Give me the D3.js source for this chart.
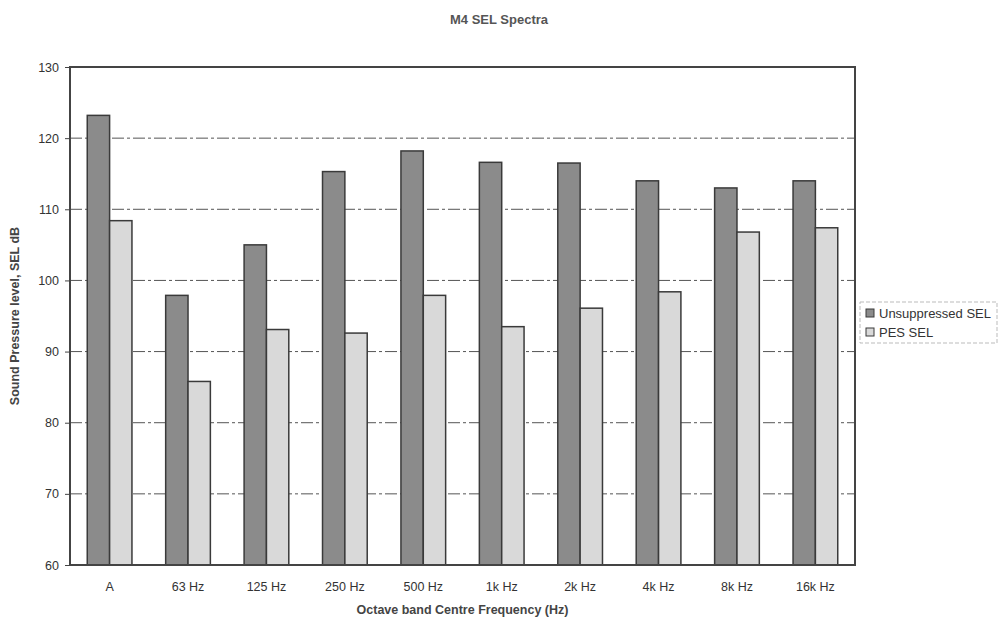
<!DOCTYPE html>
<html><head><meta charset="utf-8">
<script src="https://cdn.jsdelivr.net/npm/d3@7/dist/d3.min.js"></script>
<style>body{margin:0;background:#fff;} svg{display:block;font-family:Arial,"Liberation Sans",sans-serif;}</style>
</head><body><svg id="c" width="999" height="625"></svg>
<script>
const categories = ["A","63 Hz","125 Hz","250 Hz","500 Hz","1k Hz","2k Hz","4k Hz","8k Hz","16k Hz"];
const seriesNames = ["Unsuppressed SEL","PES SEL"];
const unsuppressed = [123.2, 97.9, 105.0, 115.3, 118.2, 116.6, 116.5, 114.0, 113.0, 114.0];
const pes = [108.4, 85.8, 93.1, 92.6, 97.9, 93.5, 96.1, 98.4, 106.8, 107.4];
const yTicks = [60,70,80,90,100,110,120,130];
const colors = ["#8b8b8b","#d9d9d9"];

const svg = d3.select("#c");
const m = {left:70, right:144, top:67, bottom:60};
const W = 999 - m.left - m.right, H = 625 - m.top - m.bottom;
const g = svg.append("g").attr("transform",`translate(${m.left},${m.top})`);

const x0 = d3.scaleBand().domain(categories).range([0,W]).paddingInner(0.43).paddingOuter(0.22);
const x1 = d3.scaleBand().domain(seriesNames).range([0,x0.bandwidth()]).padding(0);
const y = d3.scaleLinear().domain([60,130]).range([H,0]);

// gridlines
g.append("g").selectAll("line").data(yTicks.filter(t=>t>60&&t<130)).join("line")
  .attr("x1",0).attr("x2",W).attr("y1",d=>y(d)).attr("y2",d=>y(d))
  .attr("stroke","#555").attr("stroke-width",1).attr("stroke-dasharray","12,3,3,3");

// bars
const data = categories.map((c,i)=>({c, vals:[unsuppressed[i], pes[i]]}));
const grp = g.append("g").selectAll("g").data(data).join("g")
  .attr("transform",d=>`translate(${x0(d.c)},0)`);
grp.selectAll("rect").data(d=>d.vals.map((v,j)=>({v,s:seriesNames[j],j}))).join("rect")
  .attr("x",d=>x1(d.s)).attr("width",x1.bandwidth())
  .attr("y",d=>y(d.v)).attr("height",d=>H-y(d.v))
  .attr("fill",d=>colors[d.j]).attr("stroke","#3a3a3a").attr("stroke-width",1.5);

// frame
g.append("rect").attr("x",0).attr("y",0).attr("width",W).attr("height",H)
  .attr("fill","none").attr("stroke","#444").attr("stroke-width",2);

// y axis
const ya = g.append("g").call(d3.axisLeft(y).tickValues(yTicks).tickSize(5).tickPadding(6));
ya.select(".domain").remove();
ya.selectAll("line").attr("stroke","#444");
ya.selectAll("text").attr("font-size",12.5).attr("fill","#333").attr("font-family","Arial, 'Liberation Sans', sans-serif");

// x axis
const xa = g.append("g").attr("transform",`translate(0,${H})`).call(d3.axisBottom(x0).tickSize(0).tickPadding(17));
xa.select(".domain").remove();
xa.selectAll("text").attr("font-size",12.5).attr("fill","#333").attr("font-family","Arial, 'Liberation Sans', sans-serif");

// titles
svg.append("text").attr("x",499).attr("y",24).attr("text-anchor","middle")
  .attr("font-size",13).attr("font-weight","bold").attr("fill","#555").text("M4 SEL Spectra");
svg.append("text").attr("x",m.left+W/2).attr("y",614).attr("text-anchor","middle")
  .attr("font-size",12.5).attr("font-weight","bold").attr("fill","#444").text("Octave band Centre Frequency (Hz)");
svg.append("text").attr("transform",`translate(19,${m.top+H/2}) rotate(-90)`).attr("text-anchor","middle")
  .attr("font-size",12.5).attr("font-weight","bold").attr("fill","#444").text("Sound Pressure level, SEL dB");

// legend
const lg = svg.append("g").attr("transform","translate(860,302)");
lg.append("rect").attr("width",137).attr("height",41).attr("fill","#fff")
  .attr("stroke","#bbb").attr("stroke-width",1).attr("stroke-dasharray","4,2");
seriesNames.forEach((s,i)=>{
  const r = lg.append("g").attr("transform",`translate(6,${7+i*19})`);
  r.append("rect").attr("width",8).attr("height",8).attr("fill",colors[i]).attr("stroke","#3a3a3a");
  r.append("text").attr("x",13).attr("y",8.5).attr("font-size",13).attr("fill","#333").text(s);
});
</script></body></html>
